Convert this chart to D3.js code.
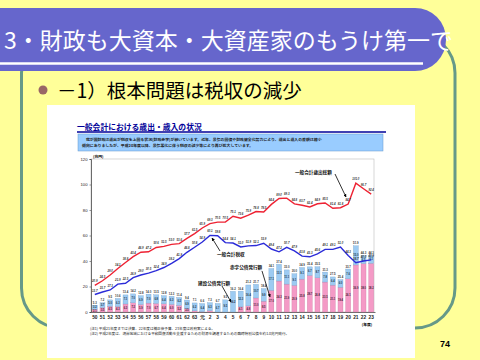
<!DOCTYPE html>
<html><head><meta charset="utf-8">
<script src="https://cdn.jsdelivr.net/npm/d3@7"></script>
<style>html,body{margin:0;padding:0;background:#FFFF99;}svg{display:block;}</style>
</head><body>
<svg id="s" width="480" height="360"></svg>
<script>
const years = ["50","51","52","53","54","55","56","57","58","59","60","61","62","63","元","2","3","4","5","6","7","8","9","10","11","12","13","14","15","16","17","18","19","20","21","22","23"];
const expenditure = [20.9,24.5,29.0,34.1,38.8,43.4,46.9,47.2,50.6,51.5,53.0,53.6,57.7,61.5,65.9,69.3,70.5,70.5,75.1,73.6,75.9,78.8,78.5,84.4,89.0,89.3,84.8,83.7,82.4,84.9,85.5,81.4,81.8,84.7,101.0,96.7,92.4];
const taxRevenue = [13.7,15.7,17.3,21.9,22.5,26.9,29.0,30.5,32.4,34.9,38.2,41.9,46.8,50.8,54.9,60.1,59.8,54.4,54.1,51.0,51.9,52.1,53.9,49.4,47.2,50.7,47.9,43.8,43.3,45.6,49.1,49.1,51.0,44.3,38.7,40.0,40.9];
const deficitBonds = [2.1,3.5,4.5,4.3,6.3,7.2,5.9,7.0,6.7,6.4,6.0,5.2,2.5,0.9,0.2,1.0,0,0,0,4.1,4.8,11.0,8.5,17.0,24.3,21.9,20.9,25.8,28.7,26.8,23.5,21.1,19.4,26.1,36.9,38.0,38.2];
const constructionBonds = [3.2,3.7,5.0,6.3,7.1,7.0,6.9,7.0,6.8,6.4,6.3,6.2,6.9,6.2,6.4,6.3,6.7,9.5,16.2,12.3,16.4,10.7,9.9,17.1,13.1,11.1,9.1,9.1,6.7,8.7,7.8,6.4,6.0,7.6,15.0,6.3,6.1];
const yTicks = [0,20,40,60,80,100,120];

const svg = d3.select("#s");
const JP = "'Noto Sans CJK JP','Noto Sans',sans-serif";

// slide background
svg.append("rect").attr("width",480).attr("height",360).attr("fill","#FFFF99");
// frame border
svg.append("rect").attr("x",21.5).attr("y",33).attr("width",433.5).attr("height",295).attr("rx",40)
  .attr("fill","none").attr("stroke","#669988").attr("stroke-width",3);
// title bar
svg.append("rect").attr("x",-40).attr("y",8).attr("width",486).attr("height",63).attr("rx",31)
  .attr("fill","#6666CC");
svg.append("line").attr("x1",0).attr("x2",423).attr("y1",63.5).attr("y2",63.5)
  .attr("stroke","#fff").attr("stroke-width",2.5);
svg.append("text").attr("x",4).attr("y",49).attr("fill","#fff")
  .attr("font-family",JP).attr("font-size",23).text("3・財政も大資本・大資産家のもうけ第一で");
// bullet
svg.append("circle").attr("cx",43).attr("cy",90).attr("r",4.5).attr("fill","#996666");
svg.append("text").attr("x",57).attr("y",97.5).attr("fill","#000")
  .attr("font-family",JP).attr("font-size",19.5).text("－1）根本問題は税収の減少");
// page number
svg.append("text").attr("x",445).attr("y",347).attr("text-anchor","middle")
  .attr("font-family","'Liberation Sans',Arial,sans-serif").attr("font-weight","bold").attr("font-size",9).text("74");

// embedded chart image
svg.append("rect").attr("x",47).attr("y",105).attr("width",368).attr("height",253).attr("fill","#fff");
const g = svg.append("g");
g.append("text").attr("x",77).attr("y",129.5).attr("fill","#000099").attr("font-weight","bold")
  .attr("font-family",JP).attr("font-size",7.8).text("一般会計における歳出・歳入の状況");
g.append("line").attr("x1",77).attr("x2",386).attr("y1",132).attr("y2",132).attr("stroke","#000099").attr("stroke-width",1.3);
g.append("rect").attr("x",78).attr("y",134).attr("width",305).attr("height",17).attr("fill","#99CCFF").attr("stroke","#6699CC").attr("stroke-width",0.5);
g.append("text").attr("x",82).attr("y",140.5).attr("font-family",JP).attr("font-size",3.9).attr("font-weight","bold").attr("fill","#222")
  .text("　我が国財政は歳出が税収を上回る状況(財政赤字)が続いています。近年、景気の回復や財政健全化努力により、歳出と歳入の差額は縮小");
g.append("text").attr("x",82).attr("y",146.5).attr("font-family",JP).attr("font-size",3.9).attr("font-weight","bold").attr("fill","#222")
  .text("傾向にありましたが、平成20年度以降、景気悪化に伴う税収の減少等により再び拡大しています。");

const x = d3.scaleBand().domain(years).range([91,375]).paddingInner(0.35).paddingOuter(0.17);
const y = d3.scaleLinear().domain([0,120]).range([312,159]);
const cx = d => x(d) + x.bandwidth()/2;
const f1 = d3.format(".1f");

// frame
g.append("rect").attr("x",91).attr("y",159).attr("width",283).attr("height",153).attr("fill","none").attr("stroke","#bbb").attr("stroke-width",0.6);

// y axis
const ya = g.append("g").attr("transform","translate(91,0)")
  .call(d3.axisLeft(y).tickValues(yTicks).tickSize(1.5).tickPadding(2).tickFormat(d3.format("d")));
ya.select(".domain").attr("stroke","#333").attr("stroke-width",0.7);
ya.selectAll("text").attr("font-size",4.2).attr("font-family","'Liberation Sans',sans-serif").attr("fill","#222");
ya.selectAll("line").attr("stroke","#333").attr("stroke-width",0.5);
// x axis
const xa = g.append("g").attr("transform","translate(0,312)")
  .call(d3.axisBottom(x).tickSize(0).tickPadding(3.5));
xa.select(".domain").attr("stroke","#333").attr("stroke-width",0.7);
xa.selectAll("text").attr("font-size",4.8).attr("font-weight","bold").attr("font-family","'Liberation Sans',sans-serif").attr("fill","#222");

g.append("text").attr("x",93).attr("y",157.5).attr("font-size",3.8).attr("font-family",JP).attr("font-weight","bold").text("(兆円)");
g.append("text").attr("x",367).attr("y",326).attr("text-anchor","middle").attr("font-size",3.8).attr("font-family",JP).attr("font-weight","bold").text("(年度)");

// bars
const bars = g.append("g");
years.forEach((yr,i)=>{
  const d = deficitBonds[i], c = constructionBonds[i];
  if (d>0) bars.append("rect").attr("x",x(yr)).attr("width",x.bandwidth()).attr("y",y(d)).attr("height",y(0)-y(d))
    .attr("fill","#F49AC6").attr("stroke","#c8729a").attr("stroke-width",0.3);
  bars.append("rect").attr("x",x(yr)).attr("width",x.bandwidth()).attr("y",y(d+c)).attr("height",y(d)-y(d+c))
    .attr("fill","#9DCBF2").attr("stroke","#6f9cc4").attr("stroke-width",0.3);
  const tl = bars.append("text").attr("x",cx(yr)).attr("y",y(d+c)-1.5).attr("text-anchor","middle")
    .attr("font-size",2.8).attr("font-weight","bold").attr("font-family","'Liberation Sans',sans-serif").attr("fill","#333").text(f1(d+c));
  if (c>2) bars.append("text").attr("x",cx(yr)).attr("y",y(d+c/2)+1).attr("text-anchor","middle")
    .attr("font-size",2.6).attr("font-weight","bold").attr("font-family","'Liberation Sans',sans-serif").attr("fill","#234").text(f1(c));
  if (d>2) bars.append("text").attr("x",cx(yr)).attr("y",y(d/2)+1).attr("text-anchor","middle")
    .attr("font-size",2.6).attr("font-weight","bold").attr("font-family","'Liberation Sans',sans-serif").attr("fill","#423").text(f1(d));
});

// lines
const line = d3.line().x((d,i)=>cx(years[i])).y(d=>y(d));
g.append("path").datum(expenditure).attr("d",line).attr("fill","none").attr("stroke","#EE2233").attr("stroke-width",1.4);
g.append("path").datum(taxRevenue).attr("d",line).attr("fill","none").attr("stroke","#2B2BD8").attr("stroke-width",1.4);
[[expenditure,"#333"],[taxRevenue,"#333"]].forEach(([arr,col])=>{
  g.append("g").selectAll("text").data(arr).join("text")
    .attr("x",(d,i)=>cx(years[i])).attr("y",d=>y(d)-3).attr("text-anchor","middle")
    .attr("font-size",2.8).attr("font-style","italic").attr("font-weight","bold").attr("font-family","'Liberation Sans',sans-serif").attr("fill",col)
    .text(d=>f1(d));
});

// annotations
svg.append("defs").append("marker").attr("id","ah").attr("viewBox","0 0 10 10").attr("refX",9).attr("refY",5)
  .attr("markerWidth",4).attr("markerHeight",4).attr("orient","auto")
  .append("path").attr("d","M0,0L10,5L0,10z").attr("fill","#000");
const ann = (txt,tx,ty,x1,y1,x2,y2)=>{
  g.append("text").attr("x",tx).attr("y",ty).attr("font-size",4.6).attr("font-weight","bold").attr("font-family",JP).attr("fill","#111").text(txt);
  g.append("line").attr("x1",x1).attr("y1",y1).attr("x2",x2).attr("y2",y2).attr("stroke","#000").attr("stroke-width",0.8).attr("marker-end","url(#ah)");
};
ann("一般会計歳出総額",295,173.5,335,174,346,197);
ann("一般会計税収",217,256,220,251,212,238);
ann("赤字公債発行額",230,268.5,262,271,270,297);
ann("建設公債発行額",198,284.5,222,286,231,302);

// footnotes
g.append("text").attr("x",90).attr("y",330).attr("font-size",3.6).attr("font-family",JP).attr("fill","#222")
  .text("(注1) 平成21年度までは決算、22年度は補正後予算、23年度は政府案による。");
g.append("text").attr("x",90).attr("y",335).attr("font-size",3.6).attr("font-family",JP).attr("fill","#222")
  .text("(注2) 平成2年度は、湾岸地域における平和回復活動を支援するための財源を調達するための臨時特別公債を約1.0兆円発行。");
</script>
</body></html>
